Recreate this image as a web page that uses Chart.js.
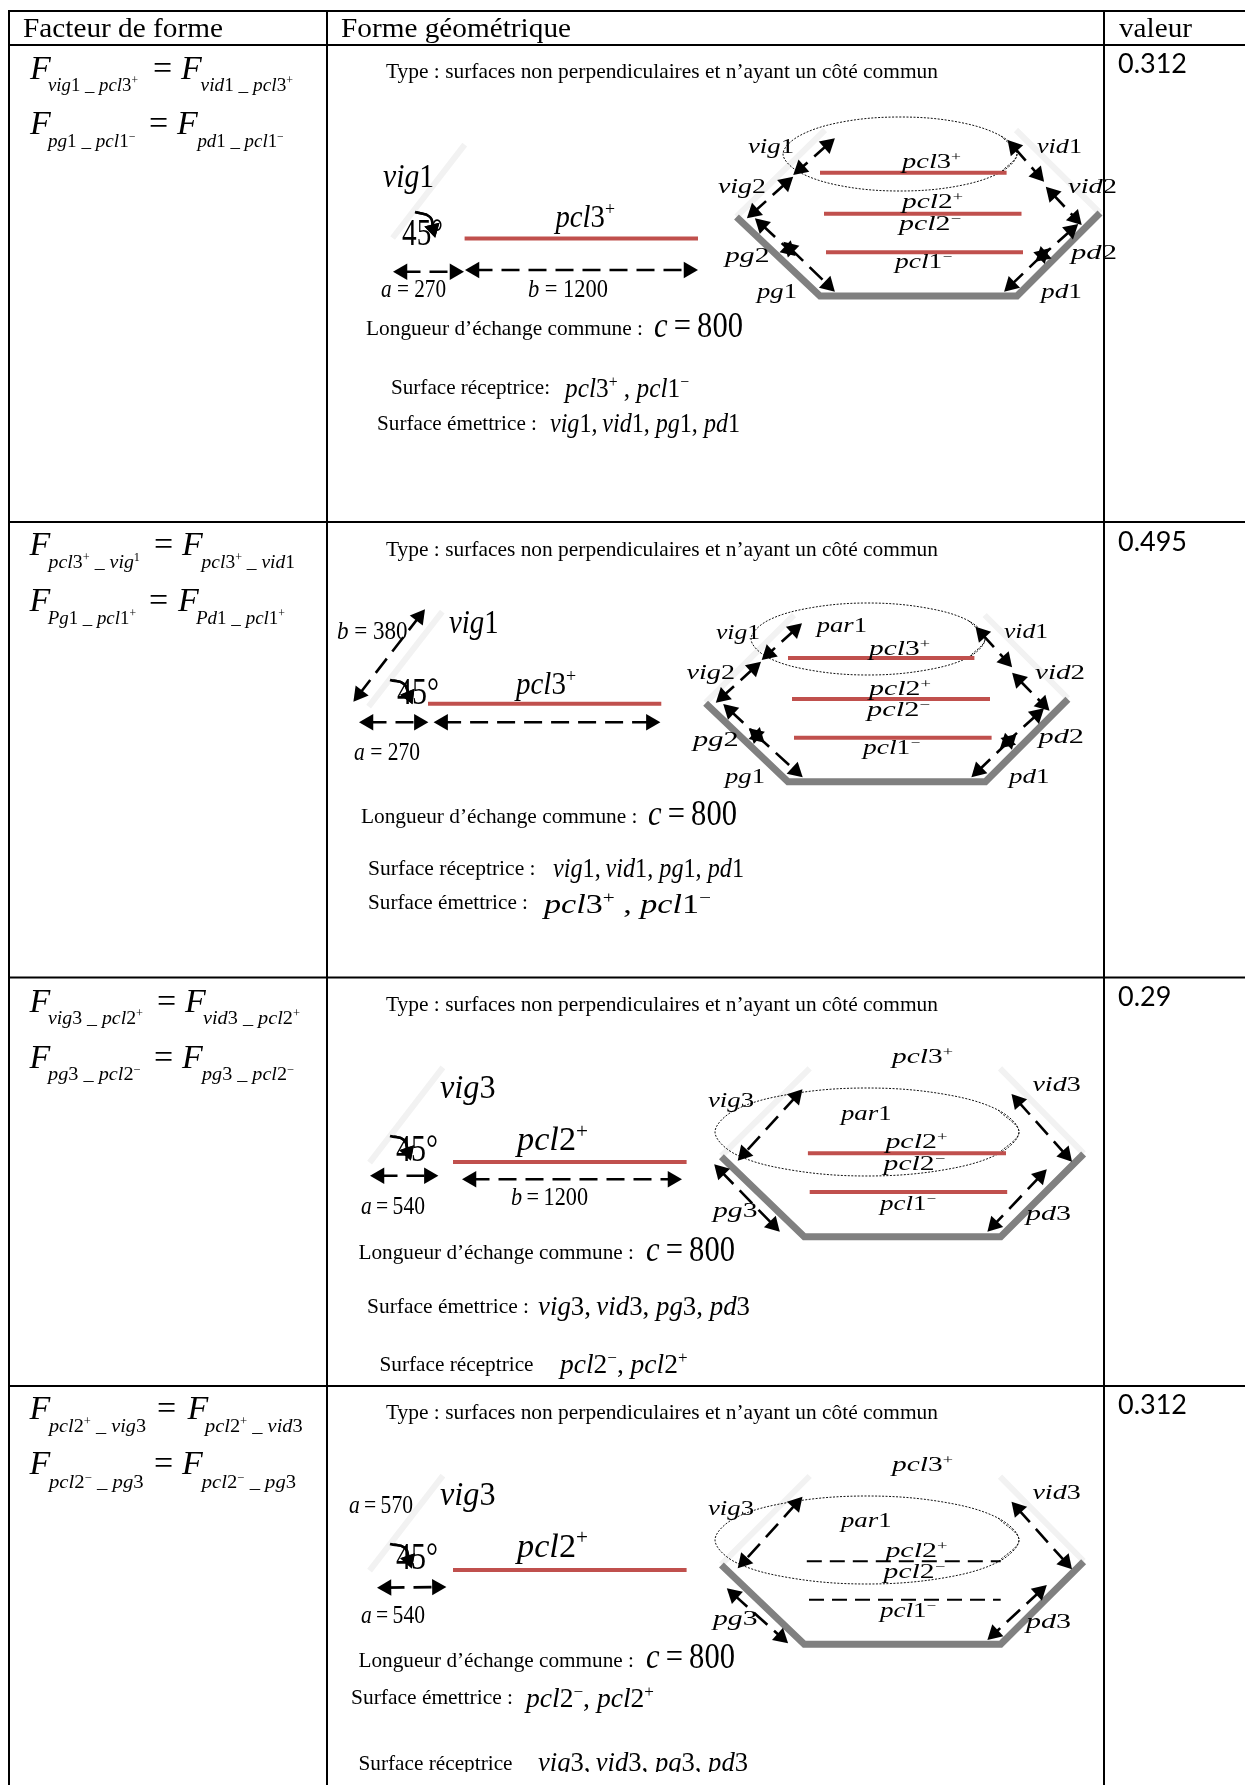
<!DOCTYPE html>
<html lang="fr">
<head>
<meta charset="utf-8">
<title>Facteurs de forme</title>
<script src="https://cdn.jsdelivr.net/npm/chart.js@4"></script>
<style>html,body{margin:0;padding:0;background:#fff}canvas{display:block}</style>
</head>
<body>
<canvas id="c" width="1245" height="1785"></canvas>
<script>
const headers = [[23,36.5,"Facteur de forme",223],[341,36.5,"Forme géométrique",571],[1119,36.5,"valeur",1192]];
const factorValues = [0.312, 0.495, 0.29, 0.312];
const valueBaselines = [73, 551, 1006, 1414];

const tableLines = [
  [[8,11],[1245,11]], [[8,45],[1245,45]], [[8,522],[1245,522]], [[8,977.5],[1245,977.5]], [[8,1386],[1245,1386]],
  [[9,10],[9,1785]], [[327,10],[327,1785]], [[1104,10],[1104,1785]]
];
const wallLines = [
  [[392.6,238],[464.7,144.6]], [[736.5,216.7],[825,130]], [[1100,213],[1016,130]],
  [[368.6,706.7],[442.3,611.7]], [[705.6,702.7],[794,615]], [[1067.9,698.3],[984.6,615]],
  [[369.6,1162.7],[442.9,1067.3]], [[721.4,1156],[809.7,1068.3]], [[1083.6,1153.3],[1000,1068.3]],
  [[369.6,1570.7],[442.9,1475.7]], [[721.4,1564.3],[809.7,1476]], [[1083.6,1561],[1000,1476.7]]
];
const floorLines = [
  [[736.5,217],[820,296],[1017,296],[1100,213]],
  [[705.6,703.3],[788,781.7],[985.4,781.7],[1067.9,699.3]],
  [[721.4,1156.7],[804.3,1236.7],[1000.7,1236.7],[1083.6,1154]],
  [[721.4,1565],[804.3,1644.3],[1000.7,1644.3],[1083.6,1561.7]]
];
const redLines = [
  [[464.6,238.5],[698,238.5]], [[820,172.7],[1006.6,172.7]], [[824,213.7],[1021.5,213.7]], [[826,252.3],[1023,252.3]],
  [[428,703.7],[661.3,703.7]], [[788,658],[974.4,658]], [[792,699],[990,699]], [[794,737.7],[991.6,737.7]],
  [[453,1162],[686.6,1162]], [[807.9,1153.3],[1006,1153.3]], [[809.7,1192],[1007.2,1192]],
  [[453,1570],[686.6,1570]]
];
const dashedLines = [
  [[806.8,1561.3],[1000.7,1561.3]], [[809,1599.7],[1000.7,1599.7]]
];
const ellipses = [
  [[1017,154],[1001,172],[958,186],[900,191],[842,186],[799,172],[783,154],[799,136],[842,122],[900,117],[958,122],[1001,136]],
  [[985,639],[969,657],[926.5,670],[868,675],[809.5,670],[767,657],[751,639],[767,621],[809.5,608],[868,603],[926.5,608],[969,621]],
  [[1019,1132],[998,1154],[943,1170],[867,1176],[791,1170],[735,1154],[715,1132],[735,1110],[791,1094],[867,1088],[943,1094],[998,1110]],
  [[1019,1540],[998,1562],[943,1578],[867,1584],[791,1578],[735,1562],[715,1540],[735,1518],[791,1502],[867,1496],[943,1502],[998,1518]]
];
const arrows = [
  [[393,271.7],[464,271.7]], [[465,270],[698,270]],
  [[834.9,138.3],[793.2,175]], [[793.2,176.7],[746.9,218.3]], [[754.9,218.3],[795.6,256]], [[783.4,241.7],[834.9,291.7]],
  [[1007.6,140],[1044.1,181.7]], [[1045.8,186.7],[1081.7,225]], [[1078.2,224],[1035.4,261.7]], [[1049.3,248.3],[1004.1,291.7]],
  [[353.4,701.7],[425,609.3]], [[359,722.3],[428.4,722.3]], [[433.6,722.3],[660.4,722.3]],
  [[802,623.3],[761.7,660]], [[761,661.7],[715.8,702.7]], [[723.2,704],[764.6,742.7]], [[748.8,728.3],[802.7,777.3]],
  [[975.5,626.7],[1012.1,667.3]], [[1012.1,672.7],[1049.5,710.7]], [[1044,708.3],[1000,748.3]], [[1016.5,734],[971.4,777.3]],
  [[370,1175.7],[438.4,1175.7]], [[462,1179.3],[682,1179.3]],
  [[802.5,1089.3],[737.7,1160.7]], [[1011.5,1094],[1072,1161.7]], [[1046.8,1169.3],[987.4,1231.7]], [[714.2,1164.3],[779.8,1231.7]],
  [[377,1587.7],[446.4,1587]],
  [[802.5,1496.7],[737.7,1568.3]], [[1011.5,1501.7],[1072,1569.3]], [[1046.8,1585],[987.4,1640]], [[726.8,1588.3],[788.1,1643.3]]
];
const angleCurves = [
  [[415,212],[430,217],[433,229]],
  [[390,680],[404,684],[409,696]],
  [[390,1136],[404,1140],[408,1152]],
  [[390,1544],[405,1548],[409,1560]]
];

const TYPE_TEXT = "Type : surfaces non perpendiculaires et n’ayant un côté commun";
const LONG_TEXT = "Longueur d’échange commune :";
const C_EQ = "c\u2009=\u2009800";
const formulaLabels = [
  [30,79,34,"m","F"],[48,90.5,19,"m","vig1 _ pcl3^+",138],[153,79,34,"p","="],[181,79,34,"m","F"],[200.6,90.5,19,"m","vid1 _ pcl3^+",293],
  [30,134.4,34,"m","F"],[48,147,19,"m","pg1 _ pcl1^-",135.4],[149,134.4,34,"p","="],[177,134.4,34,"m","F"],[197.4,147,19,"m","pd1 _ pcl1^-",283.7],
  [29.5,555,34,"m","F"],[48.6,568,19,"m","pcl3^+ _ vig^1",140],[154,555,34,"p","="],[182,555,34,"m","F"],[201.6,568,19,"m","pcl3^+ _ vid1",295],
  [29.5,611,34,"m","F"],[47.7,624,19,"m","Pg1 _ pcl1^+",136],[149,611,34,"p","="],[178,611,34,"m","F"],[196,624,19,"m","Pd1 _ pcl1^+",285],
  [29.5,1011.7,34,"m","F"],[48,1024,19,"m","vig3 _ pcl2^+",143],[157,1011.7,34,"p","="],[185,1011.7,34,"m","F"],[203,1024,19,"m","vid3 _ pcl2^+",300],
  [29.5,1067.7,34,"m","F"],[48,1080,19,"m","pg3 _ pcl2^-",140.6],[154,1067.7,34,"p","="],[182,1067.7,34,"m","F"],[202,1080,19,"m","pg3 _ pcl2^-",294],
  [29.5,1418.7,34,"m","F"],[49,1431.7,19,"m","pcl2^+ _ vig3",146],[157,1418.7,34,"p","="],[187.5,1418.7,34,"m","F"],[205,1431.7,19,"m","pcl2^+ _ vid3",302.7],
  [29.5,1474,34,"m","F"],[49,1487.7,19,"m","pcl2^- _ pg3",143.7],[154,1474,34,"p","="],[182,1474,34,"m","F"],[201.8,1487.7,19,"m","pcl2^- _ pg3",296]
];
const captionLabels = [
  [386,77.5,21,"p",TYPE_TEXT,938],[366,334.5,21,"p",LONG_TEXT,643],[654,337,36,"m",C_EQ,743],
  [391,393.6,21,"p","Surface réceptrice:",550],[565,397,27,"m","pcl3^+ , pcl1^-",689],
  [377,430,21,"p","Surface émettrice :",537],[550,432,28,"m","vig1,\u2009vid1, pg1, pd1",740],
  [386,555.5,21,"p",TYPE_TEXT,938],[361,822.7,21,"p",LONG_TEXT,637.5],[648,825,36,"m",C_EQ,737],
  [368,875,21,"p","Surface réceptrice :",535.6],[553,876.7,28,"m","vig1,\u2009vid1, pg1, pd1",744],
  [368,909,21,"p","Surface émettrice :",528],[544,912.7,27,"m","pcl3^+ , pcl1^-",711],
  [386,1010.7,21,"p",TYPE_TEXT,938],[358.5,1259,21,"p",LONG_TEXT,634],[646,1261,36,"m",C_EQ,735],
  [367,1312.7,21,"p","Surface émettrice :",529],[538,1315,28,"m","vig3,\u2009vid3, pg3, pd3",750],
  [379.5,1371,21,"p","Surface réceptrice",533.5],[560,1373,27,"m","pcl2^-, pcl2^+",687.5],
  [386,1418.5,21,"p",TYPE_TEXT,938],[358.5,1667,21,"p",LONG_TEXT,634],[646,1668,36,"m",C_EQ,735],
  [351,1704,21,"p","Surface émettrice :",513],[526,1706.7,27,"m","pcl2^-, pcl2^+",654],
  [358.5,1770,21,"p","Surface réceptrice",512.5],[538,1771,28,"m","vig3,\u2009vid3, pg3, pd3",748]
];
const sketchLabels = [
  [383,187,34,"m","vig1",434],[402,245,37,"p","45°",443],[555.5,227,32,"m","pcl3^+",615],
  [381,296.6,26,"m","a = 270",446],[528,296.6,26,"m","b = 1200",608],
  [337,639,26,"m","b = 380",407.6],[449,632.7,34,"m","vig1",498.7],[397,704,37,"p","45°",439],[516,694,32,"m","pcl3^+",576],[354,760,26,"m","a = 270",420],
  [440,1098,34,"m","vig3",495.5],[396,1160.5,37,"p","45°",438],[517,1150,34,"m","pcl2^+",588],[511,1205,26,"m","b\u2009=\u20091200",588],[361,1214,26,"m","a\u2009=\u2009540",425],
  [349,1512.7,26,"m","a\u2009=\u2009570",413],[440,1505,34,"m","vig3",495.5],[396,1568.5,37,"p","45°",438],[517,1556.7,34,"m","pcl2^+",588],[361,1622.7,26,"m","a\u2009=\u2009540",425]
];
const hexLabels = [
  [748,152.7,20,"m","vig1",794],[1037,152.7,20,"m","vid1",1082],[718,193,20,"m","vig2",766],[1068,193,20,"m","vid2",1117],
  [902,168,20,"m","pcl3^+",961],[902,207.7,20,"m","pcl2^+",963],[899,230,20,"m","pcl2^-",961],[895,268,20,"m","pcl1^-",952],
  [725,261.7,20,"m","pg2",769.5],[1071,259,20,"m","pd2",1117],[757,298,20,"m","pg1",797],[1041,297.7,20,"m","pd1",1082],
  [816.7,631.7,20,"m","par1",867],[716,639,20,"m","vig1",760],[1004,638,20,"m","vid1",1048],[869,655,20,"m","pcl3^+",930],
  [686.5,679,20,"m","vig2",735],[1035,679,20,"m","vid2",1085],[869,695,20,"m","pcl2^+",931],[867,716,20,"m","pcl2^-",930],
  [693,746,20,"m","pg2",738.6],[1038.5,743,20,"m","pd2",1084],[863,754,20,"m","pcl1^-",920],[725,783,20,"m","pg1",765],[1009,783,20,"m","pd1",1049.5],
  [892,1062.7,20,"m","pcl3^+",953],[1032.4,1091,20,"m","vid3",1080.7],[708,1107,20,"m","vig3",754],[841,1119.7,20,"m","par1",891.5],
  [885.4,1148.3,20,"m","pcl2^+",947.4],[883.6,1170,20,"m","pcl2^-",945],[880,1210,20,"m","pcl1^-",936],[713,1216.7,20,"m","pg3",757.5],[1026,1220,20,"m","pd3",1071],
  [892,1470.7,20,"m","pcl3^+",953],[1032.4,1499,20,"m","vid3",1080.7],[708,1515,20,"m","vig3",754],[841,1527.3,20,"m","par1",891.5],
  [885.4,1556.7,20,"m","pcl2^+",947.4],[883.6,1577.7,20,"m","pcl2^-",945],[880,1616.7,20,"m","pcl1^-",936],[713,1625,20,"m","pg3",757.5],[1026,1628,20,"m","pd3",1071]
];
const CLIP_BOTTOM = 1772;

const SERIF = '"Liberation Serif", serif';
const toPts = a => a.map(([x, y]) => ({x, y}));
const plainLine = (a, color, width, extra) => Object.assign({
  data: toPts(a), showLine: true, borderColor: color, borderWidth: width, pointRadius: 0, pointHoverRadius: 0, clip: false, tension: 0
}, extra || {});
const closedLoop = a => [a[a.length-1], ...a, a[0], a[1]];

const HEAD_R = 9.5;
function arrowDataset(pair) {
  const [[x1,y1],[x2,y2]] = pair;
  const len = Math.hypot(x2-x1, y2-y1), ux = (x2-x1)/len, uy = (y2-y1)/len;
  const a = [x1 + ux*HEAD_R, y1 + uy*HEAD_R], b = [x2 - ux*HEAD_R, y2 - uy*HEAD_R];
  const rotB = Math.atan2(ux, -uy) * 180 / Math.PI;
  return plainLine([a, b], '#000', 2.6, {
    borderDash: [18, 9], pointStyle: 'triangle', pointRadius: HEAD_R, pointBackgroundColor: '#000',
    pointBorderWidth: 0, pointRotation: [rotB + 180, rotB]
  });
}
function curveDataset(c) {
  const n = c.length, dx = c[n-1][0]-c[n-2][0], dy = c[n-1][1]-c[n-2][1];
  const rot = Math.atan2(dx, -dy) * 180 / Math.PI;
  return plainLine(c, '#000', 2.4, {
    tension: 0.5, pointStyle: 'triangle', pointBackgroundColor: '#000', pointBorderWidth: 0,
    pointRadius: c.map((_, i) => i === n-1 ? 9 : 0), pointRotation: c.map(() => rot)
  });
}

const datasets = [
  ...wallLines.map(a => plainLine(a, '#f2f2f2', 6)),
  ...floorLines.map(a => plainLine(a, '#808080', 7, {borderJoinStyle: 'miter'})),
  ...ellipses.map(a => plainLine(closedLoop(a), '#111', 1, {borderDash: [2, 1.5], tension: 0.35})),
  ...redLines.map(a => plainLine(a, '#c0504d', 4)),
  ...dashedLines.map(a => plainLine(a, '#000', 2, {borderDash: [15, 8]})),
  ...arrows.map(arrowDataset),
  ...tableLines.map(a => plainLine(a, '#000', 2))
];
datasets.forEach((d, i) => { d.order = -i; });

function tokens(kind, text) {
  if (kind === 'p') return [{t: text, it: false, sup: false}];
  const out = [];
  for (let i = 0; i < text.length; i++) {
    let ch = text[i];
    if (ch === '^') {
      i++;
      ch = text[i] === '-' ? '\u2212' : text[i];
      out.push({t: ch, it: false, sup: true});
    } else {
      out.push({t: ch, it: /[A-Za-z]/.test(ch), sup: false});
    }
  }
  return out;
}
function drawLabel(ctx, sx, sy, item, family) {
  const [x, y, size, kind, text, x2] = item;
  const toks = tokens(kind, text);
  const fontOf = k => (k.it ? 'italic ' : '') + (k.sup ? size*0.62 : size) + 'px ' + family;
  let natural = 0;
  toks.forEach(k => { ctx.font = fontOf(k); natural += ctx.measureText(k.t).width; });
  const left = sx.getPixelForValue(x), base = sy.getPixelForValue(y);
  const stretch = x2 ? (sx.getPixelForValue(x2) - left) / natural : 1;
  ctx.save();
  ctx.translate(left, base);
  ctx.scale(stretch, 1);
  ctx.textBaseline = 'alphabetic';
  ctx.textAlign = 'left';
  ctx.fillStyle = '#000';
  let cx = 0;
  toks.forEach(k => {
    ctx.font = fontOf(k);
    ctx.fillText(k.t, cx, k.sup ? -size*0.36 : 0);
    cx += ctx.measureText(k.t).width;
  });
  ctx.restore();
}
const textPlugin = {
  id: 'tableText',
  afterDatasetsDraw(chart) {
    const {ctx, scales: {x: sx, y: sy}} = chart;
    ctx.save();
    ctx.beginPath();
    ctx.rect(0, 0, chart.width, sy.getPixelForValue(CLIP_BOTTOM));
    ctx.clip();
    headers.forEach(([x, y, t, x2]) => drawLabel(ctx, sx, sy, [x, y, 27, 'p', t, x2], SERIF));
    [...formulaLabels, ...captionLabels, ...sketchLabels, ...hexLabels].forEach(i => drawLabel(ctx, sx, sy, i, SERIF));
    factorValues.forEach((v, i) => drawLabel(ctx, sx, sy, [1118, valueBaselines[i], 27, 'p', String(v)], 'Lato, sans-serif'));
    ctx.restore();
  }
};
/* the angle marks sit over the 45° text in the reference */
const angleMarkPlugin = {
  id: 'angleMarks',
  afterDraw(chart) {
    const metas = chart.getSortedVisibleDatasetMetas().filter(m => m.dataset.options && chart.data.datasets[m.index].isAngle);
    metas.forEach(m => { m.controller.draw(); });
  }
};
angleCurves.forEach(c => { const d = curveDataset(c); d.isAngle = true; d.order = 1000; datasets.push(d); });

new Chart(document.getElementById('c'), {
  type: 'scatter',
  data: {datasets},
  options: {
    responsive: false, animation: false, devicePixelRatio: 1,
    layout: {padding: 0, autoPadding: false},
    events: [],
    plugins: {legend: {display: false}, tooltip: {enabled: false}, title: {display: false}},
    scales: {
      x: {type: 'linear', min: 0, max: 1245, display: false},
      y: {type: 'linear', min: 0, max: 1785, reverse: true, display: false}
    }
  },
  plugins: [textPlugin, angleMarkPlugin]
});
</script>
</body>
</html>
